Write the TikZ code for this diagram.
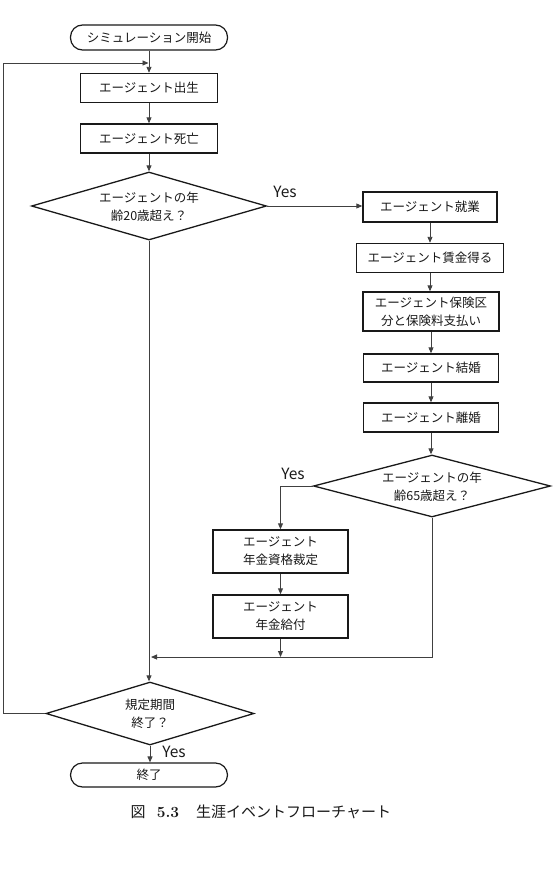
\documentclass[tikz,border=0pt]{standalone}
\usepackage{fontspec}
\newfontfamily\jp{Noto Sans CJK JP}
\usetikzlibrary{shapes.geometric,arrows.meta}
\begin{document}
\begin{tikzpicture}[x=1pt,y=-1pt,
  every node/.style={font=\jp\fontsize{12.5}{18}\selectfont, text=black!90, inner sep=0pt, align=center},
  proc/.style={draw=black!90, line width=1.4pt},
  term/.style={draw=black!90, line width=1.2pt, rounded corners=12pt},
  dia/.style={draw=black!90, line width=1.3pt, diamond},
  conn/.style={draw=black!75, line width=0.9pt},
  arr/.style={conn, -{Triangle[length=6pt,width=5pt]}},
  yeslabel/.style={font=\jp\fontsize{15.5}{18}\selectfont},
  captext/.style={font=\jp\fontsize{15}{18}\selectfont}]
\useasboundingbox (0,0) rectangle (555,873);
% nodes
\node[term, minimum width=157pt, minimum height=25pt] (start) at (149,37.5) {シミュレーション開始};
\node[proc, minimum width=137pt, minimum height=29pt] (b1) at (149,88) {エージェント出生};
\node[proc, minimum width=137pt, minimum height=29pt] (b2) at (149,138.5) {エージェント死亡};
\node[dia, minimum width=235pt, minimum height=68pt] (d1) at (149,206) {};
\node (d1t) at (149,206.5) {エージェントの年\\齢20歳超え？};
\node[proc, minimum width=134pt, minimum height=30pt] (r1) at (430,207) {エージェント就業};
\node[proc, minimum width=147pt, minimum height=29pt] (r2) at (430,258) {エージェント賃金得る};
\node[proc, minimum width=136pt, minimum height=39pt] (r3) at (431,311.5) {エージェント保険区\\分と保険料支払い};
\node[proc, minimum width=135pt, minimum height=28pt] (r4) at (431,368) {エージェント結婚};
\node[proc, minimum width=135pt, minimum height=29pt] (r5) at (431,417.5) {エージェント離婚};
\node[dia, minimum width=237pt, minimum height=62pt] (d2) at (432,486) {};
\node (d2t) at (432,487) {エージェントの年\\齢65歳超え？};
\node[proc, minimum width=135pt, minimum height=43pt] (p1) at (280.5,551.5) {エージェント\\年金資格裁定};
\node[proc, minimum width=135pt, minimum height=43pt] (p2) at (280.5,616.5) {エージェント\\年金給付};
\node[dia, minimum width=208pt, minimum height=63pt] (d3) at (150,713.5) {};
\node (d3t) at (150,713.5) {規定期間\\終了？};
\node[term, minimum width=157pt, minimum height=24pt] (end) at (149,775) {終了};
% labels
\node[yeslabel] (y1) at (285,192) {Yes};
\node[yeslabel] (y2) at (293,474) {Yes};
\node[yeslabel] (y3) at (174,752) {Yes};
\node[captext] (c1) at (138,812) {図};
\node[font=\bfseries\fontsize{15.5}{18}\selectfont, text=black!90] (c2) at (168,812.5) {5.3};
\node[captext, anchor=west] (c3) at (196,812) {生涯イベントフローチャート};
% coordinates
\coordinate (lp1) at (3,713.5);
\coordinate (lp2) at (3,63);
\coordinate (lp3) at (149,63);
\coordinate (mg) at (150,657);
% connectors
\draw[arr] (start.south) -- (b1.north);
\draw[arr] (lp2) -- ([xshift=-0.5pt]lp3);
\draw[arr] (b1.south) -- (b2.north);
\draw[arr] (b2.south) -- (d1.north);
\draw[arr] (d1.east) -- (d1.east -| r1.west);
\draw[arr] (r1.south) -- (r1.south |- r2.north);
\draw[arr] (r2.south) -- (r2.south |- r3.north);
\draw[arr] (r3.south) -- (r4.north);
\draw[arr] (r4.south) -- (r5.north);
\draw[arr] (r5.south) -- (r5.south |- d2.north);
\draw[arr] (d2.west) -| (p1.north);
\draw[arr] (p1.south) -- (p2.north);
\draw[arr] (p2.south) -- (p2.south |- mg);
\draw[arr] (d2.south) |- ([xshift=1pt]mg);
\draw[arr] (d1.south) -- (d1.south |- d3.north);
\draw[conn] (d3.west) -- (lp1) -- (lp2);
\draw[arr] (d3.south) -- (d3.south |- end.north);
\end{tikzpicture}
\end{document}
